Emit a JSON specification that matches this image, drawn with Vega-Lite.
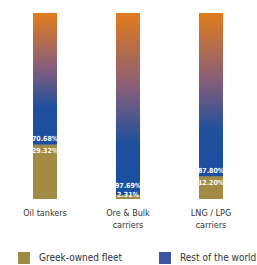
{
  "$schema": "https://vega.github.io/schema/vega-lite/v6.json",
  "autosize": {"type": "none"},
  "width": 249,
  "height": 186,
  "padding": {"left": 3.5, "top": 13, "right": 4.5, "bottom": 66},
  "background": "white",
  "config": {"view": {"stroke": null}, "font": "DejaVu Sans Condensed, DejaVu Sans, sans-serif"},
  "data": {
    "values": [
      {"category": "Oil tankers", "Greek-owned fleet": 29.32, "Rest of the world": 70.68},
      {"category": "Ore & Bulk carriers", "Greek-owned fleet": 2.31, "Rest of the world": 97.69},
      {"category": "LNG / LPG carriers", "Greek-owned fleet": 12.20, "Rest of the world": 87.80}
    ]
  },
  "encoding": {
    "x": {
      "field": "category", "type": "nominal", "sort": null,
      "scale": {"paddingInner": 0, "paddingOuter": 0},
      "axis": {
        "title": null, "ticks": false, "domain": false, "labelAngle": 0,
        "labelFontSize": 9, "labelColor": "#333333", "labelPadding": 9,
        "labelLineHeight": 12,
        "labelExpr": "indexof(datum.label, ' carriers') > 0 ? [replace(datum.label, ' carriers', ''), 'carriers'] : datum.label"
      }
    }
  },
  "layer": [
    {
      "transform": [{"fold": ["Greek-owned fleet", "Rest of the world"], "as": ["key", "value"]}],
      "mark": {"type": "bar", "width": 24},
      "encoding": {
        "y": {"field": "value", "type": "quantitative", "stack": "zero", "scale": {"domain": [0, 100], "nice": false}, "axis": null},
        "order": {"field": "key", "sort": "ascending"},
        "color": {
          "field": "key", "type": "nominal",
          "scale": {"domain": ["Greek-owned fleet", "Rest of the world"], "range": ["#a08a44", "#3a54a0"]},
          "legend": {
            "title": null, "orient": "none", "legendX": 14.5, "legendY": 239,
            "direction": "horizontal", "symbolType": "square", "symbolSize": 144,
            "symbolStrokeWidth": 0, "labelFontSize": 10, "labelColor": "#333333",
            "labelOffset": 9, "columnPadding": 36
          }
        }
      }
    },
    {
      "transform": [{"fold": ["Greek-owned fleet", "Rest of the world"], "as": ["key", "value"]}],
      "mark": {
        "type": "bar", "width": 24,
        "cornerRadiusTopLeft": {"expr": "datum.key == 'Rest of the world' ? 6 : 0"},
        "fill": {"expr": "datum.key == 'Rest of the world' ? {gradient: 'linear', x1: 0, y1: 0, x2: 0, y2: 1, stops: [{offset: 0, color: '#e27b1c'}, {offset: 0.4, color: '#8a5f78'}, {offset: 0.72, color: '#1f4f9d'}, {offset: 1, color: '#1a4ea0'}]} : '#a08a44'"}
      },
      "encoding": {
        "y": {"field": "value", "type": "quantitative", "stack": "zero"},
        "order": {"field": "key", "sort": "ascending"}
      }
    },
    {
      "transform": [{"calculate": "format(datum['Rest of the world'], '.2f') + '%'", "as": "restLabel"}],
      "mark": {"type": "text", "color": "white", "fontWeight": "bold", "fontSize": 7,
               "baseline": "bottom", "dy": {"expr": "datum['Greek-owned fleet'] < 5 ? -6 : -2"}},
      "encoding": {
        "y": {"field": "Greek-owned fleet", "type": "quantitative"},
        "text": {"field": "restLabel"}
      }
    },
    {
      "transform": [{"calculate": "format(datum['Greek-owned fleet'], '.2f') + '%'", "as": "greekLabel"}],
      "mark": {"type": "text", "color": "white", "fontWeight": "bold", "fontSize": 7,
               "baseline": {"expr": "datum['Greek-owned fleet'] < 5 ? 'middle' : 'top'"},
               "dy": {"expr": "datum['Greek-owned fleet'] < 5 ? 0 : 3"}},
      "encoding": {
        "y": {"field": "Greek-owned fleet", "type": "quantitative"},
        "text": {"field": "greekLabel"}
      }
    }
  ]
}
